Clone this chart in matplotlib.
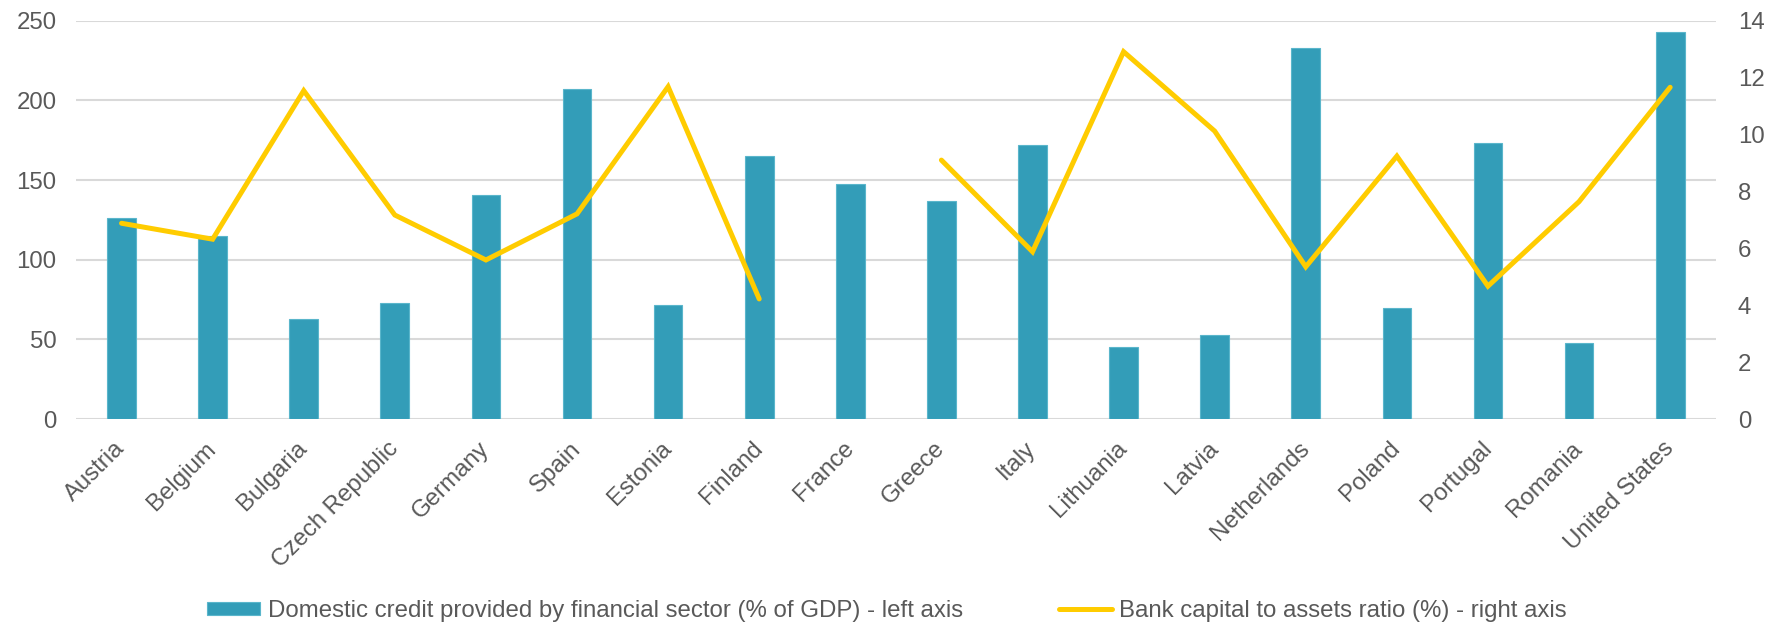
import numpy as np
import matplotlib
matplotlib.use("Agg")
import matplotlib.pyplot as plt

countries = ["Austria", "Belgium", "Bulgaria", "Czech Republic", "Germany", "Spain",
             "Estonia", "Finland", "France", "Greece", "Italy", "Lithuania", "Latvia",
             "Netherlands", "Poland", "Portugal", "Romania", "United States"]
credit = [126.2, 114.9, 62.6, 73.0, 140.8, 207.0, 71.6, 165.1, 147.3, 136.7,
          172.2, 45.4, 52.7, 232.7, 69.9, 173.1, 47.9, 243.1]
capital = [6.88, 6.32, 11.54, 7.17, 5.59, 7.21, 11.68, 4.22, np.nan, 9.10,
           5.88, 12.91, 10.12, 5.35, 9.24, 4.67, 7.64, 11.66]
left_ticks = [0, 50, 100, 150, 200, 250]
right_ticks = [0, 2, 4, 6, 8, 10, 12, 14]
bar_label = "Domestic credit provided by financial sector (% of GDP) - left axis"
line_label = "Bank capital to assets ratio (%) - right axis"

plt.rcParams['font.family'] = ['Liberation Sans', 'DejaVu Sans']
TXT = '#595959'
FS = 17.3

fig = plt.figure(figsize=(17.74, 6.26), dpi=100)
ax = fig.add_axes([76/1774, 1-419/626, (1715.7-76)/1774, (419-20.7)/626])
ax2 = ax.twinx()

x = np.arange(len(countries))
bars = ax.bar(x, credit, width=0.315, color='#339DB8', edgecolor='#5AB6CB',
              linewidth=0.8, zorder=2, label=bar_label)
line, = ax2.plot(x, capital, color='#FFCC00', linewidth=3.6,
                 solid_capstyle='round', solid_joinstyle='miter', zorder=3,
                 label=line_label)

ax.set_xlim(-0.5, len(countries) - 0.5)
ax.set_ylim(0, 250)
ax2.set_ylim(0, 14)
ax.set_yticks(left_ticks)
ax2.set_yticks(right_ticks)
ax.yaxis.grid(True, color='#D9D9D9', linewidth=1.5, zorder=0)
ax.set_axisbelow(True)

for a in (ax, ax2):
    for s in a.spines.values():
        s.set_visible(False)
ax.tick_params(axis='y', length=0, pad=14, labelsize=FS, labelcolor=TXT)
ax2.tick_params(axis='y', length=0, pad=16, labelsize=FS, labelcolor=TXT)
ax.tick_params(axis='x', length=0, pad=19, labelsize=FS, labelcolor=TXT)
ax.set_xticks(x)
ax.set_xticklabels(countries, rotation=45, ha='right', va='center',
                   rotation_mode='anchor')

fig.legend([bars, line], [bar_label, line_label], loc='center',
           bbox_to_anchor=(0.5, 1-611/626), ncol=2, frameon=False,
           fontsize=FS, labelcolor=TXT, handlelength=2.2, handleheight=0.5,
           handletextpad=0.3, columnspacing=4.0)

fig.savefig("out.png", dpi=100, facecolor='white')
